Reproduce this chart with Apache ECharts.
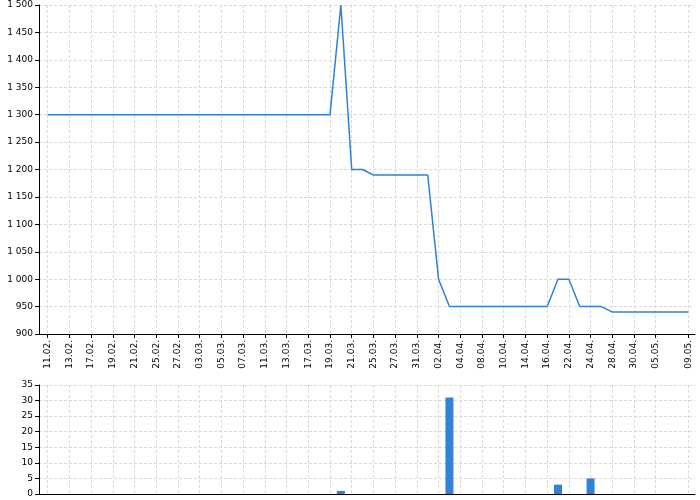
<!DOCTYPE html>
<html><head><meta charset="utf-8">
<script src="https://cdn.jsdelivr.net/npm/echarts@6/dist/echarts.min.js"></script>
<style>html,body{margin:0;padding:0;background:#fff}#c{width:700px;height:500px}</style>
</head><body><div id="c"></div>
<script>
const dates = ['11.02.','12.02.','13.02.','14.02.','17.02.','18.02.','19.02.','20.02.','21.02.','24.02.',
'25.02.','26.02.','27.02.','28.02.','03.03.','04.03.','05.03.','06.03.','07.03.','10.03.',
'11.03.','12.03.','13.03.','14.03.','17.03.','18.03.','19.03.','20.03.','21.03.','24.03.',
'25.03.','26.03.','27.03.','28.03.','31.03.','01.04.','02.04.','03.04.','04.04.','07.04.',
'08.04.','09.04.','10.04.','11.04.','14.04.','15.04.','16.04.','17.04.','22.04.','23.04.',
'24.04.','25.04.','28.04.','29.04.','30.04.','02.05.','05.05.','06.05.','07.05.','09.05.'];
const prices = [1300,1300,1300,1300,1300,1300,1300,1300,1300,1300,
1300,1300,1300,1300,1300,1300,1300,1300,1300,1300,
1300,1300,1300,1300,1300,1300,1300,1500,1200,1200,
1190,1190,1190,1190,1190,1190,1000,950,950,950,
950,950,950,950,950,950,950,1000,1000,950,
950,950,940,940,940,940,940,940,940,940];
const volumes = [0,0,0,0,0,0,0,0,0,0,
0,0,0,0,0,0,0,0,0,0,
0,0,0,0,0,0,0,1,0,0,
0,0,0,0,0,0,0,31,0,0,
0,0,0,0,0,0,0,3,0,0,
5,0,0,0,0,0,0,0,0,0];

const FONT = 'DejaVu Sans';
const last = dates.length - 1;
const showIdx = (i) => (i % 2 === 0 && i < last - 1) || i === last;
const fmt = (v) => v >= 1000 ? Math.floor(v/1000) + ' ' + String(v % 1000).padStart(3,'0') : String(v);
const dashed = {show:true, lineStyle:{color:'#d9d9d9', type:[3,2], width:1}};
const blackLine = {show:true, lineStyle:{color:'#000', width:1}};

const chart = echarts.init(document.getElementById('c'), null, {renderer:'canvas'});
chart.setOption({
  animation:false,
  backgroundColor:'#fff',
  grid:[
    {left:39, top:5, width:656, height:329},
    {left:47.7, top:5, width:640.6, height:329},
    {left:39, top:385, width:656, height:109},
    {left:47.7, top:385, width:640.6, height:109}
  ],
  xAxis:[
    {type:'value', gridIndex:0, min:0, max:1, axisLine:{show:true, onZero:false, lineStyle:{color:'#000'}}, axisTick:{show:false}, axisLabel:{show:false}, splitLine:{show:false}},
    {type:'category', gridIndex:1, data:dates, boundaryGap:false,
      axisLine:{show:false},
      axisTick:{show:true, interval:(i)=>showIdx(i), length:4, lineStyle:{color:'#000'}},
      axisLabel:{show:true, interval:(i)=>showIdx(i), rotate:90, fontFamily:FONT, fontSize:9, color:'#000', margin:6},
      splitLine:{show:true, interval:(i)=>showIdx(i), lineStyle:{color:'#d9d9d9', type:[3,2]}}},
    {type:'value', gridIndex:2, min:0, max:1, axisLine:{show:true, onZero:false, lineStyle:{color:'#000'}}, axisTick:{show:false}, axisLabel:{show:false}, splitLine:{show:false}},
    {type:'category', gridIndex:3, data:dates, boundaryGap:false,
      axisLine:{show:false}, axisTick:{show:false}, axisLabel:{show:false},
      splitLine:{show:true, interval:(i)=>showIdx(i), lineStyle:{color:'#d9d9d9', type:[3,2]}}}
  ],
  yAxis:[
    {type:'value', gridIndex:0, min:900, max:1500, interval:50, axisLine:blackLine,
      axisTick:{show:true, length:4, lineStyle:{color:'#000'}},
      axisLabel:{fontFamily:FONT, fontSize:9, color:'#000', margin:6, formatter:fmt},
      splitLine:dashed},
    {type:'value', gridIndex:1, min:900, max:1500, show:false, splitLine:{show:false}},
    {type:'value', gridIndex:2, min:0, max:35, interval:5, axisLine:blackLine,
      axisTick:{show:true, length:4, lineStyle:{color:'#000'}},
      axisLabel:{fontFamily:FONT, fontSize:9, color:'#000', margin:6, formatter:fmt},
      splitLine:dashed},
    {type:'value', gridIndex:3, min:0, max:35, show:false, splitLine:{show:false}}
  ],
  series:[
    {type:'line', xAxisIndex:1, yAxisIndex:1, data:prices, showSymbol:false, symbol:'none',
      lineStyle:{color:'#2f80d9', width:1.5}, z:5},
    {type:'bar', xAxisIndex:3, yAxisIndex:3, data:volumes, barWidth:8,
      itemStyle:{color:'#3283d8', borderWidth:0}, z:5}
  ]
});
</script></body></html>
